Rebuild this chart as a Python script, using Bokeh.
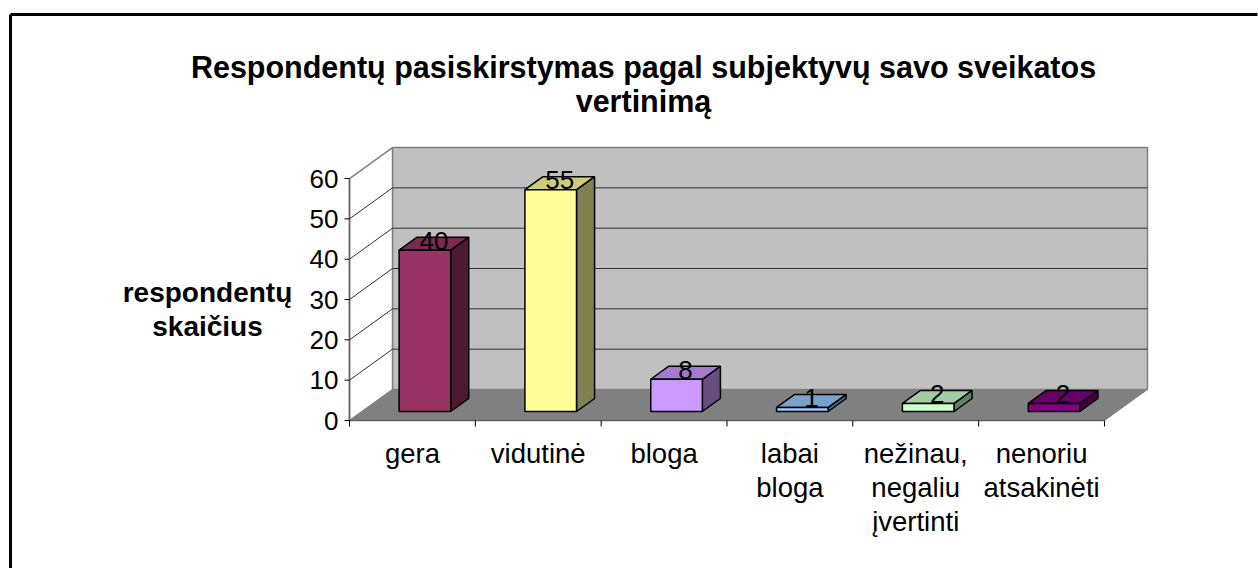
from bokeh.plotting import figure
from bokeh.models import Range1d
from bokeh.embed import file_html
from bokeh.resources import INLINE
from bokeh.core.properties import value

# ---- data ----
categories = ["gera", "vidutinė", "bloga", "labai\nbloga", "nežinau,\nnegaliu\nįvertinti", "nenoriu\natsakinėti"]
counts = [40, 55, 8, 1, 2, 2]
y_ticks = [0, 10, 20, 30, 40, 50, 60]
front_colors = ["#993366", "#FFFF99", "#CC99FF", "#99CCFF", "#CCFFCC", "#800080"]
top_colors = ["#7A2952", "#CCCC7A", "#A37ACC", "#7AA3CC", "#A3CCA3", "#660066"]
side_colors = ["#4D1A33", "#808050", "#664D80", "#4D6680", "#668066", "#400040"]
title_lines = ["Respondentų pasiskirstymas pagal subjektyvų savo sveikatos", "vertinimą"]
y_label_lines = ["respondentų", "skaičius"]

# ---- geometry (pixel scale of the data) ----
PPC = 125.83      # px per category
PPU = 4.033       # px per value unit
ORX, ORY = 349, 420  # screen position of data origin
W, H = 1258, 568
OFF = 0

def xd(px_page):
    return (px_page - ORX) / PPC

def yd(py_page):
    return (ORY - py_page) / PPU

DX = 43 / PPC   # depth offset in categories
DY = 31 / PPU   # depth offset in value units
F0, F1 = 0.29, 0.71
BW = 0.41
YMAX = y_ticks[-1]
N = len(categories)

p = figure(width=W, height=H, output_backend="svg", toolbar_location=None,
           x_range=Range1d(xd(OFF), xd(OFF + W)), y_range=Range1d(yd(OFF + H), yd(OFF)),
           min_border=0)
p.axis.visible = False
p.grid.visible = False
p.outline_line_color = None
p.background_fill_color = "white"
p.border_fill_color = "white"

# outer chart border (top and left visible)
p.segment(x0=[xd(10), xd(10)], y0=[yd(14), yd(14)], x1=[xd(1257), xd(10)], y1=[yd(14), yd(570)],
          line_color="black", line_width=3)

# floor
p.patch([0, N, N + DX, DX], [0, 0, DY, DY], fill_color="#808080", line_color="#808080", line_width=1)
# back wall
p.patch([DX, N + DX, N + DX, DX], [DY, DY, YMAX + DY, YMAX + DY],
        fill_color="#C0C0C0", line_color="#808080", line_width=1.5)
# left wall
p.patch([0, 0, DX, DX], [0, YMAX, YMAX + DY, DY], fill_color="white", line_color="#808080", line_width=1.5)

# gridlines on back wall and left wall
inner = [t for t in y_ticks if 0 < t < YMAX]
p.segment(x0=[DX] * len(inner), y0=[t + DY for t in inner], x1=[N + DX] * len(inner),
          y1=[t + DY for t in inner], line_color="#303030", line_width=1)
p.segment(x0=[0] * len(inner), y0=inner, x1=[DX] * len(inner), y1=[t + DY for t in inner],
          line_color="#303030", line_width=1)

# bars
fx, fy, sx, sy, tx, ty = [], [], [], [], [], []
lx, ly = [], []
bdx, bdy = (F1 - F0) * DX, (F1 - F0) * DY
for i, v in enumerate(counts):
    cx = i + 0.5
    x0 = cx - BW / 2 + F0 * DX
    x1 = cx + BW / 2 + F0 * DX
    y0 = F0 * DY
    y1 = v + F0 * DY
    fx.append([x0, x1, x1, x0]); fy.append([y0, y0, y1, y1])
    sx.append([x1, x1 + bdx, x1 + bdx, x1]); sy.append([y0, y0 + bdy, y1 + bdy, y1])
    tx.append([x0, x1, x1 + bdx, x0 + bdx]); ty.append([y1, y1, y1 + bdy, y1 + bdy])
    lx.append((x0 + x1) / 2 + bdx / 2)
    ly.append(y1 + 0.5 / PPU)

p.patches(sx, sy, fill_color=side_colors, line_color="black", line_width=1.5)
p.patches(tx, ty, fill_color=top_colors, line_color="black", line_width=1.5)
p.patches(fx, fy, fill_color=front_colors, line_color="black", line_width=1.5)

p.text(x=lx, y=ly, text=[str(c) for c in counts], text_align="center", text_baseline="bottom",
       text_font=value("Liberation Sans"), text_font_size="26px", text_color="black")

# front axes
p.segment(x0=[0, 0], y0=[0, 0], x1=[0, N], y1=[YMAX, 0], line_color="#606060", line_width=1.5)
tick_len_x = 5 / PPC
p.segment(x0=[-tick_len_x] * len(y_ticks), y0=y_ticks, x1=[0] * len(y_ticks), y1=y_ticks,
          line_color="black", line_width=1)
tick_len_y = 6 / PPU
p.segment(x0=list(range(N + 1)), y0=[0] * (N + 1), x1=list(range(N + 1)), y1=[-tick_len_y] * (N + 1),
          line_color="black", line_width=1)

p.text(x=[-11 / PPC] * len(y_ticks), y=y_ticks, text=[str(t) for t in y_ticks], text_align="right",
       text_baseline="middle", text_font=value("Liberation Sans"), text_font_size="26px", text_color="black")

p.text(x=[i + 0.5 for i in range(N)], y=[-17 / PPU] * N, text=categories, text_align="center",
       text_baseline="top", text_font=value("Liberation Sans"), text_font_size="27.5px",
       text_line_height=1.1, text_color="black")

# title
p.text(x=[xd(643), xd(643)], y=[yd(66), yd(100)], text=title_lines, text_align="center",
       text_baseline="alphabetic", text_font=value("Liberation Sans"), text_font_size="30.5px",
       text_font_style="bold", text_color="black")

# y-axis title
p.text(x=[xd(207), xd(207)], y=[yd(292), yd(326)], text=y_label_lines, text_align="center",
       text_baseline="alphabetic", text_font=value("Liberation Sans"), text_font_size="28px",
       text_font_style="bold", text_color="black")

open("out.html", "w").write(file_html(p, INLINE))
